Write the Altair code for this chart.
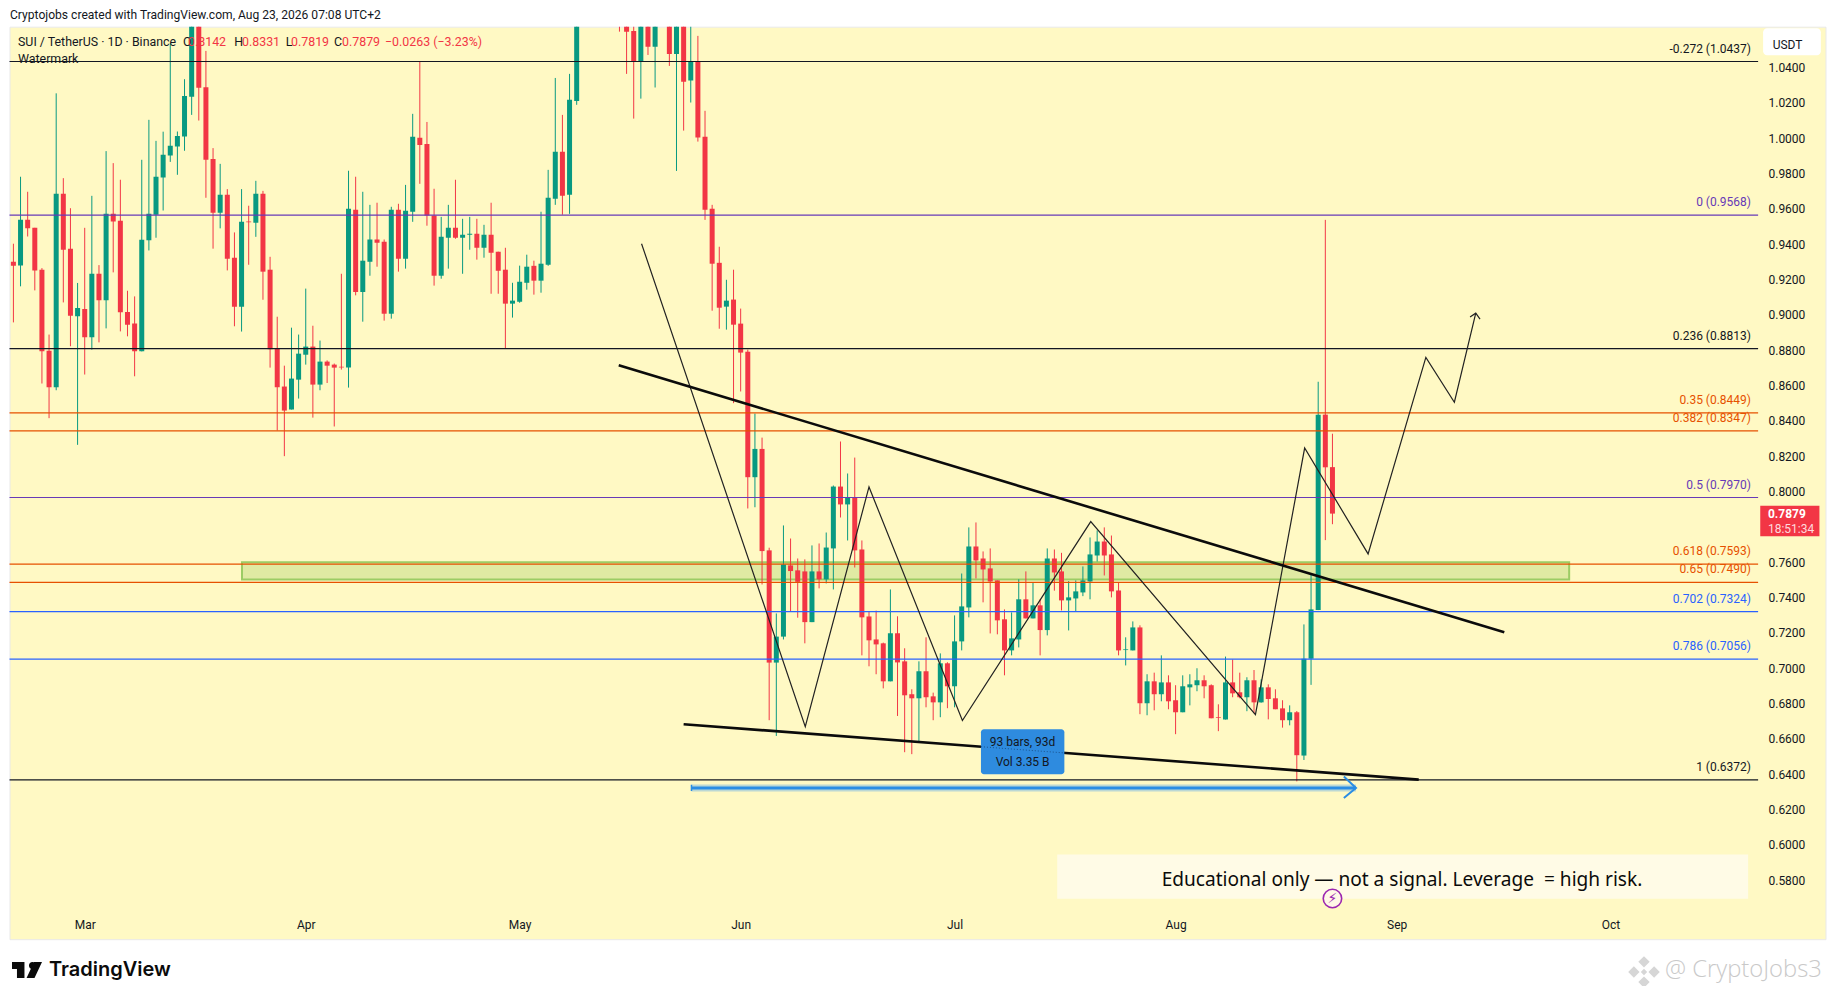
import altair as alt
import pandas as pd

highs = [
 .9406,.9785,.9700,.9496,.9268,.8892,1.0257,.9777,.9607,.9184,
 .9496,.9677,.9285,.9930,.9862,.9768,.9140,.9108,.9881,1.0107,
 .9988,1.0040,1.0540,1.0041,1.0337,1.0900,1.0900,1.0497,.9947,.9858,
 .9715,.9470,.9715,.9621,.9762,.9705,.9332,.8993,.8716,.8931,
 .8892,.9152,.8942,.8858,.8746,.8728,.9236,.9819,.9785,.9700,
 .9626,.9638,.9430,.9615,.9632,.9739,1.0141,1.0438,1.0095,.9717,
 .9558,.9626,.9768,.9547,.9558,.9547,.9513,.9638,.9361,.9383,
 .9185,.9282,.9344,.9310,.9587,.9824,1.0344,1.0135,1.0367,1.0900,
 1.12,1.14,1.15,1.14,1.13,1.11,1.09,1.07,1.08,1.085,
 1.09,1.09,1.09,1.10,1.11,1.07,1.0582,1.0158,.9626,.9389,
 .9202,.9259,.9039,.8807,.8445,.8309,.7686,.7314,.7812,.7738,
 .7625,.7620,.7699,.7710,.7772,.8038,.8287,.8106,.8196,.7727,
 .7326,.7330,.7149,.7450,.7298,.7117,.6885,.7043,.7179,.6866,
 .7088,.7038,.7303,.7540,.7801,.7829,.7665,.7682,.7501,.7337,
 .7320,.7507,.7552,.7490,.7394,.7682,.7676,.7657,.7497,.7501,
 .7580,.7744,.7784,.7801,.7755,.7492,.7179,.7269,.7247,.6970,
 .6979,.7077,.6964,.6908,.6964,.6970,.7004,.6964,.6913,.6800,
 .7070,.7054,.6979,.6953,.6994,.6941,.6913,.6885,.6823,.6794,
 .6762,.7252,.7534,.8625,.9541,.8331]
tops = [
 .9304,.9542,.9542,.9496,.9259,.8801,.9689,.9689,.9378,.9042,
 .9037,.9236,.9236,.9575,.9575,.9536,.9020,.8954,.9429,.9575,
 .9785,.9909,.9960,1.0016,1.0242,1.08,1.08,1.0291,.9886,.9683,
 .9683,.9327,.9530,.9532,.9689,.9689,.9259,.8816,.8598,.8643,
 .8784,.8824,.8824,.8739,.8739,.8722,.8710,.9604,.9598,.9310,
 .9430,.9430,.9417,.9598,.9598,.9592,1.0011,1.0005,.9971,.9566,
 .9445,.9496,.9496,.9457,.9462,.9462,.9457,.9457,.9361,.9259,
 .9084,.9191,.9276,.9281,.9293,.9666,.9926,.9926,1.0220,1.08,
 1.11,1.13,1.13,1.12,1.11,1.10,1.08,1.0610,1.0750,1.0750,
 1.0750,1.08,1.08,1.08,1.09,1.0438,1.0438,1.0011,.9604,.9298,
 .9084,.9090,.8954,.8795,.8245,.8245,.7671,.7183,.7591,.7586,
 .7558,.7552,.7552,.7552,.7687,.8032,.8032,.7970,.7970,.7676,
 .7297,.7167,.7145,.7202,.7202,.7043,.6857,.6987,.6987,.6845,
 .7032,.7032,.7156,.7354,.7693,.7693,.7625,.7569,.7501,.7281,
 .7173,.7394,.7394,.7360,.7360,.7625,.7625,.7552,.7405,.7439,
 .7501,.7648,.7721,.7721,.7648,.7444,.7111,.7235,.7235,.6930,
 .6930,.6924,.6924,.6823,.6902,.6913,.6936,.6936,.6908,.6727,
 .6924,.6924,.6868,.6936,.6936,.6896,.6896,.6834,.6777,.6755,
 .6755,.7058,.7337,.8439,.8439,.8142]
bottoms = [
 .9281,.9283,.9493,.9255,.8797,.8594,.8594,.9372,.8999,.8995,
 .8877,.8877,.9086,.9086,.9532,.9018,.8948,.8797,.8797,.9425,
 .9570,.9781,.9905,.9956,1.0013,1.0237,1.0288,.9881,.9581,.9581,
 .9321,.9050,.9050,.9528,.9525,.9248,.8809,.8594,.8462,.8468,
 .8637,.8778,.8609,.8609,.8716,.8705,.8706,.8705,.9133,.9133,
 .9304,.9412,.9010,.9010,.9321,.9321,.9587,.9965,.9566,.9225,
 .9225,.9440,.9440,.9440,.9457,.9383,.9383,.9355,.9253,.9067,
 .9067,.9078,.9185,.9197,.9197,.9287,.9660,.9677,.9683,1.0214,
 1.09,1.11,1.12,1.10,1.09,1.08,1.0606,1.0438,1.0438,1.0521,
 1.0521,1.07,1.0480,1.0480,1.0323,1.0329,1.0007,.9598,.9293,.9044,
 .9050,.8948,.8790,.8085,.8085,.7667,.7036,.7036,.7183,.7554,
 .7493,.7265,.7265,.7507,.7507,.7682,.7931,.7931,.7671,.7292,
 .7162,.7139,.6930,.6930,.7037,.6851,.6834,.6834,.6840,.6811,
 .6811,.6902,.6902,.7156,.7348,.7614,.7563,.7495,.7275,.7105,
 .7105,.7167,.7286,.7286,.7220,.7220,.7546,.7388,.7388,.7399,
 .7433,.7495,.7642,.7642,.7439,.7105,.7107,.7105,.6806,.6806,
 .6857,.6857,.6817,.6755,.6755,.6896,.6908,.6902,.6721,.6723,
 .6714,.6862,.6840,.6840,.6811,.6811,.6830,.6772,.6710,.6710,
 .6512,.6510,.7058,.7333,.8141,.7879]
lows = [
 .8961,.9165,.9447,.9142,.8615,.8419,.8577,.9074,.8826,.8268,
 .8666,.8807,.8848,.8927,.9244,.8910,.8882,.8656,.8797,.9368,
 .9440,.9594,.9869,.9796,.9932,1.0135,1.0103,.9666,.9378,.9493,
 .9255,.8939,.8909,.9287,.9445,.9089,.8705,.8349,.8204,.8468,
 .8530,.8722,.8422,.8577,.8618,.8372,.8694,.8592,.9114,.8965,
 .9225,.9276,.8971,.8982,.9248,.9265,.9530,.9745,.9508,.9169,
 .9208,.9265,.9434,.9236,.9372,.9316,.9327,.9123,.9123,.8816,
 .8988,.9072,.9146,.9118,.9129,.9281,.9626,.9570,.9575,1.0192,
 1.08,1.10,1.11,1.09,1.08,1.0606,1.0367,1.0114,1.0227,1.0474,
 1.0290,1.065,1.0412,.9818,1.0046,1.0205,.9984,.9541,.9027,.8925,
 .8920,.8504,.8570,.7908,.7915,.7478,.6710,.6621,.7167,.7326,
 .7290,.7145,.7265,.7456,.7484,.7450,.7857,.7727,.7574,.7077,
 .7015,.6970,.6890,.6930,.6734,.6529,.6518,.6583,.6783,.6710,
 .6727,.6778,.6783,.7105,.7292,.7512,.7377,.7201,.7196,.6964,
 .7077,.7122,.7286,.7286,.7077,.7190,.7443,.7331,.7218,.7326,
 .7412,.7394,.7608,.7529,.7405,.7077,.7020,.7105,.6744,.6738,
 .6766,.6817,.6772,.6631,.6755,.6794,.6874,.6834,.6721,.6648,
 .6714,.6840,.6834,.6761,.6750,.6809,.6715,.6772,.6668,.6681,
 .6364,.6485,.6910,.7333,.7729,.7819]
directions = ("rgrrrrgrrg" "rgrgrrrrgg" "ggggggrrrg" "rrgrgrrrrg" "ggrgrrrgrg"
              "grrgrggrrr" "ggrggrgrrr" "gggrgggrgg" "ggrrrrrrgr" "grrgrgrrrr"
              "grrrgrrggr" "rrgrggrgrr" "rrrgrrrgrr" "grgggrrrrr" "ggrgrgrrgg"
              "gggrrrggrg" "rgrrgggrrr" "grrgrgrrrg" "rgggrr")

fib_ratio = ["-0.272", "0", "0.236", "0.35", "0.382", "0.5", "0.618", "0.65", "0.702", "0.786", "1"]
fib_level = [1.0437, 0.9568, 0.8813, 0.8449, 0.8347, 0.7970, 0.7593, 0.7490, 0.7324, 0.7056, 0.6372]
fib_color = ["#131722", "#673ab7", "#131722", "#e65100", "#e65100", "#673ab7", "#e65100", "#e65100",
             "#2962ff", "#2962ff", "#131722"]

zig_idx = [88.1, 111.06, 120.0, 133.1, 151.1, 174.2, 181.1, 190.0, 198.1, 202.1, 205.1]
zig_price = [.9406, .6674, .8030, .6708, .7834, .6742, .8250, .7651, .8763, .8509, .9013]
head_idx = [204.3, 205.1, 205.7]
head_price = [.8991, .9013, .8979]
upper_idx, upper_price = [84.9, 209.1], [.8718, .7208]
lower_idx, lower_price = [94.0, 197.1], [.6687, .6374]
span_idx, span_price = [95.1, 188.3], [.6327, .6327]
span_head_idx = [186.6, 188.3, 186.6]
span_head_price = [.6391, .6327, .6270]

month_at = [10, 41, 71, 102, 132, 163, 194, 224]
month_name = ["Mar", "Apr", "May", "Jun", "Jul", "Aug", "Sep", "Oct"]
price_ticks = [.58, .60, .62, .64, .66, .68, .70, .72, .74, .76, .80, .82, .84, .86, .88, .90,
               .92, .94, .96, .98, 1.00, 1.02, 1.04]

BG = "#fff9c4"
UP, DOWN = "#089981", "#f23645"
INK = "#131722"
UI = "Roboto"
PW, PH = 1816, 912.5
OX, OY = 9.5, 26.7   # page position of the plot area

xs = alt.Scale(domain=[-0.547, 254.15], nice=False, zero=False, padding=0)
ys = alt.Scale(domain=[0.5471, 1.0634], nice=False, zero=False, padding=0)
X = lambda f="i": alt.X(f"{f}:Q", scale=xs, axis=None, title=None)
Y = lambda f="p": alt.Y(f"{f}:Q", scale=ys, axis=None, title=None)

bars = pd.DataFrame({"i": range(len(highs)), "h": highs, "t": tops, "b": bottoms, "l": lows,
                     "c": [UP if d == "g" else DOWN for d in directions]})
col = alt.Color("c:N", scale=None, legend=None)
fibs = pd.DataFrame({"r": fib_ratio, "p": fib_level, "c": fib_color,
                     "i": [-0.547] * 11, "j": [244.7] * 11, "k": [243.7] * 11})
fibs["label"] = fibs["r"] + " (" + fibs["p"].map("{:.4f}".format) + ")"


def seg(idx, price, **mark):
    d = pd.DataFrame({"i": idx, "p": price, "o": range(len(idx))})
    return alt.Chart(d).mark_line(clip=True, **mark).encode(x=X(), y=Y(), order="o:Q")


def box(i0, i1, p0, p1, **mark):
    d = pd.DataFrame({"i": [i0], "j": [i1], "p": [p0], "q": [p1]})
    return alt.Chart(d).mark_rect(**mark).encode(x=X("i"), x2="j:Q", y=Y("p"), y2="q:Q")


def txt(s, px, py, size=12, color=INK, align="left", font=UI, **mark):
    return alt.Chart(alt.Data(values=[{"a": 1}])).mark_text(
        text=s, fontSize=size, color=color, align=align, baseline="middle", font=font, **mark
    ).encode(x=alt.value(px - OX), y=alt.value(py - OY))


axes = alt.Chart(pd.DataFrame({"i": [0, 1], "p": [0.7, 0.8]})).mark_point(opacity=0).encode(
    x=alt.X("i:Q", scale=xs, title=None, axis=alt.Axis(
        values=month_at, orient="bottom", offset=-20, domain=False, ticks=False, grid=False,
        labelPadding=0, labelAngle=0, labelFont=UI, labelFontSize=12, labelColor=INK,
        labelExpr="{" + ",".join(f"'{a}':'{b}'" for a, b in zip(month_at, month_name)) + "}[datum.value]")),
    y=alt.Y("p:Q", scale=ys, title=None, axis=alt.Axis(
        values=price_ticks, orient="right", offset=-57.5, domain=False, ticks=False, grid=False,
        labelPadding=0, labelFont=UI, labelFontSize=12, labelColor=INK, format=".4f", labelFlush=False,
        labelOverlap=False, labelOffset=-0.7)),
)

zone = box(32.06, 218.2, 0.7604, 0.7506, fill="#8bc34a", fillOpacity=0.27, stroke="#9ccc65", strokeWidth=2)

wicks = alt.Chart(bars).mark_rule(clip=True, strokeWidth=1).encode(x=X(), y=Y("h"), y2="l:Q", color=col)
bodies = alt.Chart(bars).mark_bar(clip=True, size=5, orient="vertical").encode(x=X(), y=Y("t"), y2="b:Q", color=col)

fib_lines = alt.Chart(fibs).mark_rule(strokeWidth=1.2).encode(x=X("i"), x2="j:Q", y=Y(), color=col)
fib_text = alt.Chart(fibs).mark_text(align="right", baseline="middle", dy=-13, font=UI, fontSize=12).encode(
    x=X("k"), y=Y(), text="label:N", color=col)

upper = seg(upper_idx, upper_price, color="#0b0b0b", strokeWidth=2.6)
lower = seg(lower_idx, lower_price, color="#0b0b0b", strokeWidth=2.6)
zig = seg(zig_idx, zig_price, color="#222222", strokeWidth=1.2)
head = seg(head_idx, head_price, color="#222222", strokeWidth=1.2)

span_halo = seg(span_idx, span_price, color="#bcd8d4", strokeWidth=7)
span_line = seg(span_idx, span_price, color="#2a8de4", strokeWidth=3)
span_head = seg(span_head_idx, span_head_price, color="#2a8de4", strokeWidth=2)
span_tick = seg([95.1, 95.1], [.6345, .6309], color="#2a8de4", strokeWidth=1.5)

tip = box(135.7, 147.4, .6659, .6404, fill="#2e8bdf", cornerRadius=3)
tip_dots = seg([135.7, 147.4], [.6560, .6525], color="#0b2b55", strokeWidth=1, strokeDash=[1, 2], opacity=0.6)

edu = box(146.4, 243.3, .5950, .5700, fill="#fffbe6")

tag = box(245.0, 253.3, .7924, .7751, fill=DOWN)
usdt = box(245.4, 253.5, 1.0625, 1.0472, fill="#ffffff", cornerRadius=4)
bolt_ring = alt.Chart(pd.DataFrame({"i": [185], "p": [.5701]})).mark_point(
    shape="circle", size=340, filled=True, fill="#fff8e6", stroke="#9c27b0", strokeWidth=1.6, opacity=1
).encode(x=X(), y=Y())
bolt = alt.Chart(pd.DataFrame({"i": [185], "p": [.5701]})).mark_text(
    text="\u26a1", font="DejaVu Sans", fontSize=14, color="#9c27b0", baseline="middle", align="center"
).encode(x=X(), y=Y())

tv_path = ("M-1,-0.53 L-0.17,-0.53 L-0.17,0.53 L-0.67,0.53 L-0.67,-0.07 L-1,-0.07 Z "
           "M0.13,-0.30 A0.23,0.23 0 1,1 0.13,-0.29 Z "
           "M0.47,-0.53 L1,-0.53 L0.5,0.53 L-0.03,0.53 Z")
tv_logo = alt.Chart(alt.Data(values=[{"a": 1}])).mark_point(
    shape=tv_path, size=900, filled=True, color="#0b0b0b", opacity=1
).encode(x=alt.value(27 - OX), y=alt.value(970 - OY))
bn_path = ("M0,-1 L0.36,-0.64 L0,-0.28 L-0.36,-0.64 Z M0.64,-0.36 L1,0 L0.64,0.36 L0.28,0 Z "
           "M0,0.28 L0.36,0.64 L0,1 L-0.36,0.64 Z M-0.64,-0.36 L-0.28,0 L-0.64,0.36 L-1,0 Z "
           "M0,-0.2 L0.2,0 L0,0.2 L-0.2,0 Z")
bn_logo = alt.Chart(alt.Data(values=[{"a": 1}])).mark_point(
    shape=bn_path, size=1000, filled=True, color="#d6d6d6", opacity=1
).encode(x=alt.value(1644 - OX), y=alt.value(972 - OY))

texts = [
    txt("Cryptojobs created with TradingView.com, Aug 23, 2026 07:08 UTC+2", 10, 15, 12.1),
    txt("SUI / TetherUS \u00b7 1D \u00b7 Binance", 18, 41.7, 12.4),
    txt("O", 183, 41.7, 12.4), txt("0.8142", 188, 41.7, 12.4, DOWN),
    txt("H", 234.3, 41.7, 12.4), txt("0.8331", 242, 41.7, 12.4, DOWN),
    txt("L", 285.7, 41.7, 12.4), txt("0.7819", 291, 41.7, 12.4, DOWN),
    txt("C", 334, 41.7, 12.4), txt("0.7879", 342, 41.7, 12.4, DOWN),
    txt("\u22120.0263 (\u22123.23%)", 385, 41.7, 12.4, DOWN),
    txt("Watermark", 18, 59, 12.4),
    txt("USDT", 1772.7, 45, 12),
    txt("0.7879", 1768, 514, 12, "#ffffff", fontWeight="bold"),
    txt("18:51:34", 1768, 529, 12, "#ffd9dd"),
    txt("93 bars, 93d", 1022.6, 741.7, 12, align="center"),
    txt("Vol 3.35 B", 1022.6, 761.7, 12, align="center"),
    txt("Educational only \u2014 not a signal. Leverage \u00a0= high risk.", 1402, 880, 19.1, "#0b0b0b",
        align="center", font="Noto Sans"),
    txt("TradingView", 49, 970, 20, "#0b0b0b", font="Inter", fontWeight=600),
    txt("@ CryptoJobs3", 1665, 970.5, 23.8, "#c9c9c9", font="Open Sans", fontWeight=300),
]

chart = alt.layer(
    axes, zone, wicks, bodies, fib_lines, fib_text, zig, head, upper, lower,
    span_halo, span_line, span_head, span_tick, tip, tip_dots, edu, tag, usdt, bolt_ring, bolt,
    tv_logo, bn_logo, *texts
).resolve_axis(x="independent", y="independent").properties(
    width=PW, height=PH, background="#ffffff",
    padding={"left": OX - 8, "top": OY - 8, "right": 1, "bottom": 47},
    autosize=alt.AutoSizeParams(type="none"),
).configure_view(fill=BG, stroke="#e9e9e9", strokeWidth=1)

chart.save("out.html", embed_options={"renderer": "svg", "actions": False})
